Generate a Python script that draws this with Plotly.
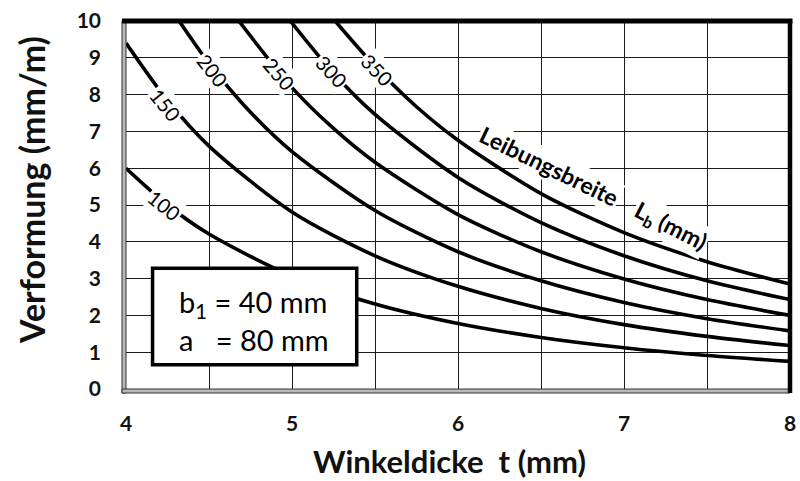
import plotly.graph_objects as go

# ---- data ----
t_100 = [4.0, 4.25, 4.5, 5.0, 5.5, 6.0, 6.5, 7.0, 7.5, 8.0]
v_100 = [6.00, 5.00, 4.21, 3.07, 2.31, 1.78, 1.40, 1.12, 0.91, 0.75]
t_150 = [4.0, 4.25, 4.5, 5.0, 5.5, 6.0, 6.5, 7.0, 7.5, 8.0]
v_150 = [9.40, 7.84, 6.60, 4.81, 3.62, 2.79, 2.19, 1.75, 1.43, 1.18]
t_200 = [4.32, 4.5, 4.75, 5.0, 5.5, 6.0, 6.5, 7.0, 7.5, 8.0]
v_200 = [10.0, 8.85, 7.52, 6.45, 4.85, 3.73, 2.94, 2.35, 1.91, 1.58]
t_250 = [4.68, 5.0, 5.25, 5.5, 6.0, 6.5, 7.0, 7.5, 8.0]
v_250 = [10.0, 8.19, 7.08, 6.16, 4.74, 3.73, 2.99, 2.43, 2.00]
t_300 = [4.99, 5.25, 5.5, 6.0, 6.5, 7.0, 7.5, 8.0]
v_300 = [10.0, 8.58, 7.46, 5.75, 4.52, 3.62, 2.94, 2.43]
t_350 = [5.26, 5.5, 5.75, 6.0, 6.5, 7.0, 7.5, 8.0]
v_350 = [10.0, 8.77, 7.67, 6.76, 5.31, 4.25, 3.46, 2.85]

curve_names = ["100", "150", "200", "250", "300", "350"]
curve_t = [t_100, t_150, t_200, t_250, t_300, t_350]
curve_v = [v_100, v_150, v_200, v_250, v_300, v_350]

label_x = [4.23, 4.24, 4.52, 4.925, 5.236, 5.515]
label_y = [5.0, 7.72, 8.66, 8.57, 8.63, 8.68]
label_angle = [39, 51, 52, 49, 47, 46]

x_ticks = [4, 5, 6, 7, 8]
y_ticks = list(range(0, 11))

FONT = "Lato"

W, H = 800, 481
L, R, T, B = 126, 10, 21, 92
pw, ph = W - L - R, H - T - B


def px2paper_x(px):
    return (px - L) / pw


def py2paper_y(py):
    return (H - B - py) / ph


fig = go.Figure()
for name, t, v in zip(curve_names, curve_t, curve_v):
    fig.add_trace(go.Scatter(x=t, y=v, mode="lines", name=name,
                             line=dict(color="black", width=3.6, shape="spline", smoothing=0.8),
                             showlegend=False, hoverinfo="skip"))

annotations = []
for name, lx, ly, ang in zip(curve_names, label_x, label_y, label_angle):
    annotations.append(dict(x=lx, y=ly, xref="x", yref="y", text=name, showarrow=False,
                            textangle=ang, bgcolor="white", borderpad=1,
                            font=dict(family=FONT, size=20, color="black")))

annotations.append(dict(x=6.55, y=6.07, xref="x", yref="y", text="<b>Leibungsbreite</b>",
                        showarrow=False, textangle=26, bgcolor="white", borderpad=1,
                        font=dict(family=FONT, size=23, color="black")))
annotations.append(dict(x=7.28, y=4.42, xref="x", yref="y", text="<b>L<sub>b</sub> (mm)</b>",
                        showarrow=False, textangle=27, bgcolor="white", borderpad=1,
                        font=dict(family=FONT, size=23, color="black")))

# parameter box text (one block, two lines)
annotations.append(dict(x=4.305, y=1.87, xref="x", yref="y", xanchor="left", yanchor="middle",
                        align="left",
                        text="b<sub>1</sub> = 40 mm<br>a  \u00a0= 80 mm", showarrow=False,
                        font=dict(family=FONT, size=29, color="black")))

# axis titles
annotations.append(dict(x=px2paper_x(449), y=py2paper_y(461), xref="paper", yref="paper",
                        xanchor="center", yanchor="middle",
                        text="<b>Winkeldicke  t (mm)</b>",
                        showarrow=False, font=dict(family=FONT, size=31, color="#111")))
annotations.append(dict(x=px2paper_x(31), y=py2paper_y(190), xref="paper", yref="paper",
                        xanchor="center", yanchor="middle",
                        text="<b>Verformung (mm/m)</b>", textangle=-90, showarrow=False,
                        font=dict(family=FONT, size=34, color="#111")))

dx = 4 / pw
dy = 4 / ph
shapes = [
    # parameter box
    dict(type="rect", xref="x", yref="y", x0=4.16, x1=5.39, y0=0.66, y1=3.28,
         fillcolor="white", line=dict(color="black", width=3.5), layer="above"),
    # left and bottom grey frame bands
    dict(type="rect", xref="paper", yref="paper", x0=-dx, x1=0, y0=-dy, y1=1,
         fillcolor="#b8b8b8", line=dict(color="#333", width=1), layer="above"),
    dict(type="rect", xref="paper", yref="paper", x0=-dx, x1=1, y0=-dy, y1=0,
         fillcolor="#b8b8b8", line=dict(color="#333", width=1), layer="above"),
    # thick top and right borders
    dict(type="line", xref="paper", yref="paper", x0=-dx, x1=1 + 2.5 / pw, y0=1, y1=1,
         line=dict(color="black", width=5), layer="above"),
    dict(type="line", xref="paper", yref="paper", x0=1, x1=1, y0=-dy, y1=1,
         line=dict(color="black", width=4.5), layer="above"),
]

fig.update_layout(
    width=W, height=H,
    margin=dict(l=L, r=R, t=T, b=B, pad=0, autoexpand=False),
    paper_bgcolor="white", plot_bgcolor="white",
    annotations=annotations, shapes=shapes,
    xaxis=dict(range=[4, 8], tickvals=x_ticks, ticktext=[str(v) for v in x_ticks],
               showgrid=True, gridcolor="#1a1a1a", gridwidth=1.3,
               minor=dict(dtick=0.5, showgrid=True, gridcolor="#1a1a1a", gridwidth=1.3),
               zeroline=False, showline=False, ticks="", ticklabelstandoff=20,
               automargin=False,
               tickfont=dict(family=FONT, size=21, color="#111", weight="bold"), fixedrange=True),
    yaxis=dict(range=[0, 10], tickvals=y_ticks, ticktext=[str(v) for v in y_ticks],
               showgrid=True, gridcolor="#1a1a1a", gridwidth=1.3,
               zeroline=False, showline=False, ticks="", ticklabelstandoff=24,
               automargin=False,
               tickfont=dict(family=FONT, size=21, color="#111", weight="bold"), fixedrange=True),
    showlegend=False,
)

fig.write_html("out.html", config={"displayModeBar": False},
               post_script="document.body.style.margin='0';")
